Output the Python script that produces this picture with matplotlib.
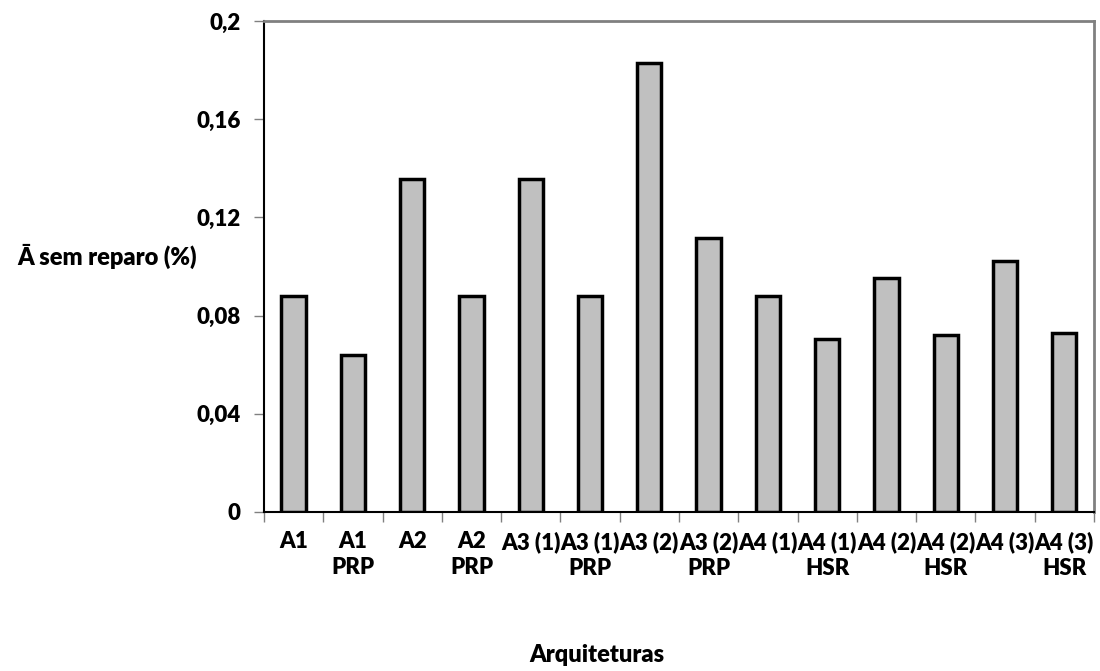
import matplotlib
matplotlib.use("Agg")
import matplotlib.pyplot as plt
import numpy as np

plt.rcParams['font.family'] = ['Lato', 'DejaVu Sans']

categories = ["A1", "A1\nPRP", "A2", "A2\nPRP", "A3 (1)", "A3 (1)\nPRP",
              "A3 (2)", "A3 (2)\nPRP", "A4 (1)", "A4 (1)\nHSR", "A4 (2)",
              "A4 (2)\nHSR", "A4 (3)", "A4 (3)\nHSR"]
values = [0.088, 0.064, 0.1355, 0.088, 0.1355, 0.088, 0.183, 0.1117,
          0.088, 0.0706, 0.0952, 0.0722, 0.1022, 0.0729]
yticks = [0, 0.04, 0.08, 0.12, 0.16, 0.2]
ytick_labels = ["0", "0,04", "0,08", "0,12", "0,16", "0,2"]

fig = plt.figure(figsize=(11, 6.71), dpi=100)
ax = fig.add_axes([0.24, 0.237, 0.7545, 0.7317])

x = np.arange(len(categories))
ax.bar(x, values, width=0.41, color="#c0c0c0", edgecolor="black", linewidth=2.5, zorder=3)

ax.set_xlim(-0.5, len(categories) - 0.5)
ax.set_ylim(0, 0.2)
ax.set_yticks(yticks)
ax.set_yticklabels(ytick_labels, fontsize=16, fontweight='heavy')

# category labels centred under bars, ticks at category boundaries
ax.set_xticks(x)
ax.set_xticklabels(categories, fontsize=16, fontweight='heavy', linespacing=1.25, va='top')
ax.tick_params(axis='x', which='major', length=0, pad=14)
ax.set_xticks(np.arange(-0.5, len(categories)), minor=True)
ax.tick_params(axis='x', which='minor', length=7, width=1, color="#808080", direction='out')
ax.tick_params(axis='y', length=7, width=1, color="#808080", direction='out', pad=10)

for side in ("top", "right"):
    ax.spines[side].set_color("#808080")
    ax.spines[side].set_linewidth(2)
for side in ("left", "bottom"):
    ax.spines[side].set_color("black")
    ax.spines[side].set_linewidth(1.5)

fig.text(0.097, 0.618, "Ā sem reparo (%)", fontsize=17, fontweight='heavy',
         ha='center', va='center')
fig.text(0.543, 0.008, "Arquiteturas", fontsize=17, fontweight='heavy',
         ha='center', va='bottom')

fig.savefig("out.png", dpi=100)
